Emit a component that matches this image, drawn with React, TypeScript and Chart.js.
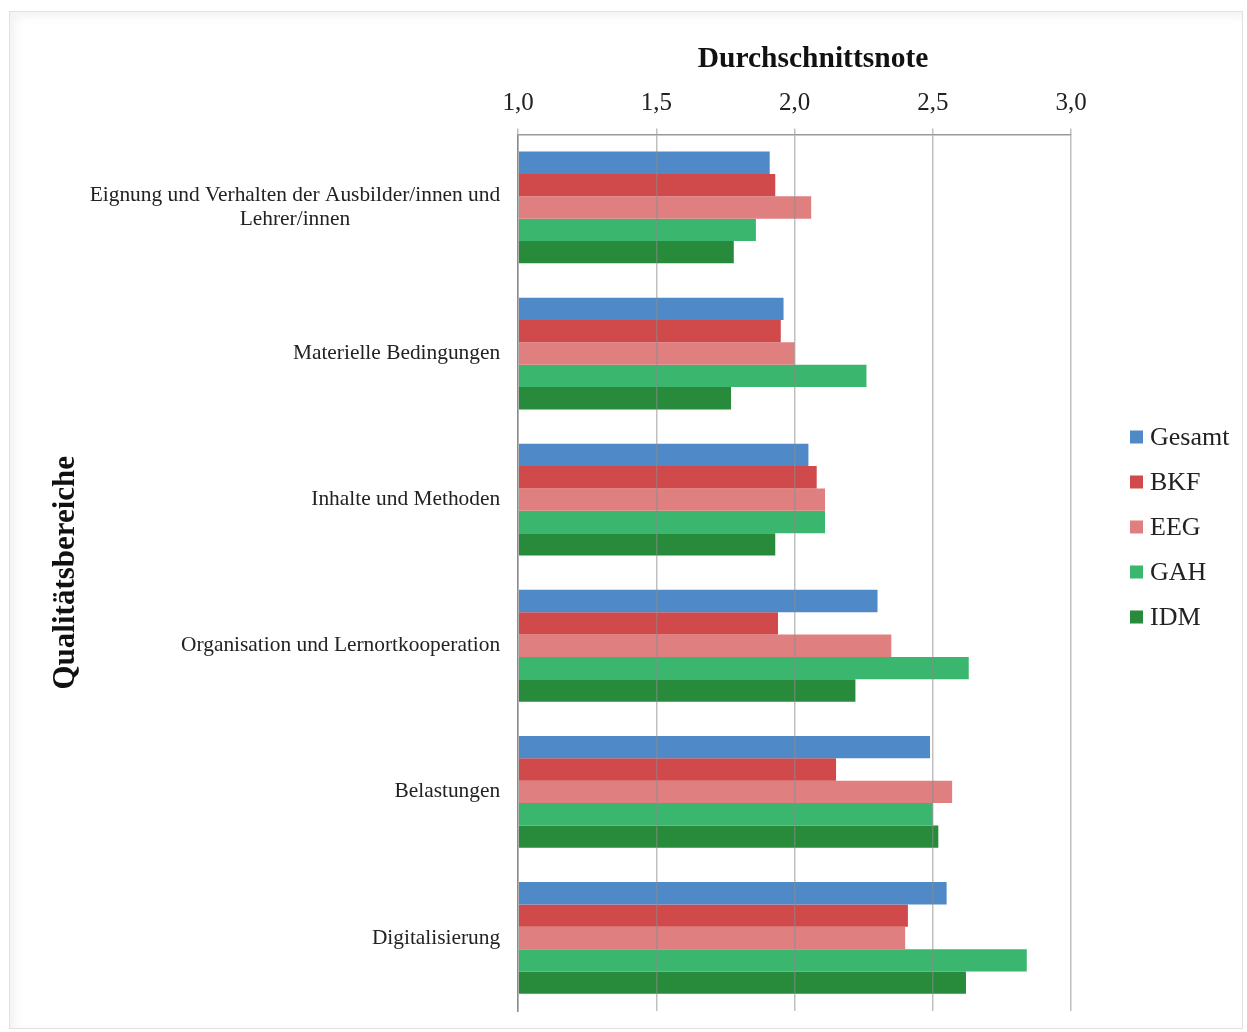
import React, { useEffect, useRef } from "react";
import { Chart, registerables } from "chart.js";

Chart.register(...registerables);

const categories: string[][] = [
  ["Eignung und Verhalten der Ausbilder/innen und", "Lehrer/innen"],
  ["Materielle Bedingungen"],
  ["Inhalte und Methoden"],
  ["Organisation und Lernortkooperation"],
  ["Belastungen"],
  ["Digitalisierung"],
];

const seriesNames = ["Gesamt", "BKF", "EEG", "GAH", "IDM"];
const seriesColors = ["#5089C8", "#D04A4B", "#E07F80", "#3AB66E", "#288A3B"];

const gesamt = [1.91, 1.96, 2.05, 2.3, 2.49, 2.55];
const bkf = [1.93, 1.95, 2.08, 1.94, 2.15, 2.41];
const eeg = [2.06, 2.0, 2.11, 2.35, 2.57, 2.4];
const gah = [1.86, 2.26, 2.11, 2.63, 2.5, 2.84];
const idm = [1.78, 1.77, 1.93, 2.22, 2.52, 2.62];

const seriesValues = [gesamt, bkf, eeg, gah, idm];

const xTitle = "Durchschnittsnote";
const yTitle = "Qualitätsbereiche";
const xMin = 1;
const xMax = 3;
const xStep = 0.5;

const FONT = '"Liberation Serif", "Times New Roman", serif';

const categoryLabelPlugin = {
  id: "categoryLabels",
  afterDraw(chart: any) {
    const { ctx, chartArea } = chart;
    const y = chart.scales.y;
    ctx.save();
    ctx.font = `21.4px ${FONT}`;
    ctx.fillStyle = "#222";
    ctx.textBaseline = "middle";
    ctx.textAlign = "center";
    categories.forEach((lines, i) => {
      const cy = y.getPixelForValue(i);
      const w = Math.max(...lines.map((l) => ctx.measureText(l).width));
      const cx = chartArea.left - 18 - w / 2;
      lines.forEach((l, j) => {
        ctx.fillText(l, cx, cy + (j - (lines.length - 1) / 2) * 24);
      });
    });
    ctx.restore();
  },
};

const legendPlugin = {
  id: "customLegend",
  afterDraw(chart: any) {
    const { ctx } = chart;
    ctx.save();
    ctx.font = `26px ${FONT}`;
    ctx.textBaseline = "middle";
    ctx.textAlign = "left";
    chart.data.datasets.forEach((ds: any, i: number) => {
      const x = chart.width - 112;
      const cy = 425 + i * 45;
      ctx.fillStyle = ds.backgroundColor;
      ctx.fillRect(x, cy - 6.5, 13, 13);
      ctx.fillStyle = "#222";
      ctx.fillText(ds.label, x + 20, cy + 1);
    });
    ctx.restore();
  },
};

export default function App() {
  const canvasRef = useRef<HTMLCanvasElement | null>(null);

  useEffect(() => {
    if (!canvasRef.current) return;
    const chart = new Chart(canvasRef.current, {
      type: "bar",
      data: {
        labels: categories,
        datasets: seriesNames.map((name, i) => ({
          label: name,
          data: seriesValues[i],
          backgroundColor: seriesColors[i],
          borderWidth: 0,
          categoryPercentage: 0.765,
          barPercentage: 1.0,
          base: xMin,
        })),
      },
      options: {
        indexAxis: "y",
        animation: false,
        responsive: true,
        maintainAspectRatio: false,
        layout: { padding: { top: 0, left: 0, right: 171, bottom: 17 } },
        plugins: {
          legend: { display: false },
          tooltip: { enabled: false },
        },
        scales: {
          x: {
            position: "top",
            min: xMin,
            max: xMax,
            ticks: {
              stepSize: xStep,
              padding: 10,
              color: "#222",
              font: { family: FONT, size: 25 },
              callback: (v: any) => Number(v).toFixed(1).replace(".", ","),
            },
            grid: {
              color: "rgba(140,140,140,0.55)",
              lineWidth: 1.5,
              z: 1,
              drawTicks: true,
              tickLength: 6,
            },
            border: { display: true, color: "#9a9a9a", width: 1.5, z: 1 },
            title: {
              display: true,
              text: "     " + xTitle,
              color: "#111",
              font: { family: FONT, size: 29.5, weight: "bold" },
              padding: { top: 30, bottom: 1 },
            },
          },
          y: {
            ticks: { display: false },
            grid: { display: false, drawTicks: false },
            border: { display: true, color: "#8a8a8a", width: 1.5 },
            title: {
              display: true,
              text: yTitle,
              color: "#111",
              font: { family: FONT, size: 31, weight: "bold" },
              padding: { top: 37, bottom: 434 },
            },
          },
        },
      } as any,
      plugins: [categoryLabelPlugin, legendPlugin],
    });
    return () => chart.destroy();
  }, []);

  return (
    <div
      style={{
        position: "absolute",
        left: 9,
        top: 11,
        width: 1232,
        height: 1016,
        border: "1px solid #e2e2e2",
        boxShadow: "inset 5px 5px 10px rgba(0,0,0,0.05)",
        background: "#fff",
      }}
    >
      <canvas ref={canvasRef} />
    </div>
  );
}
